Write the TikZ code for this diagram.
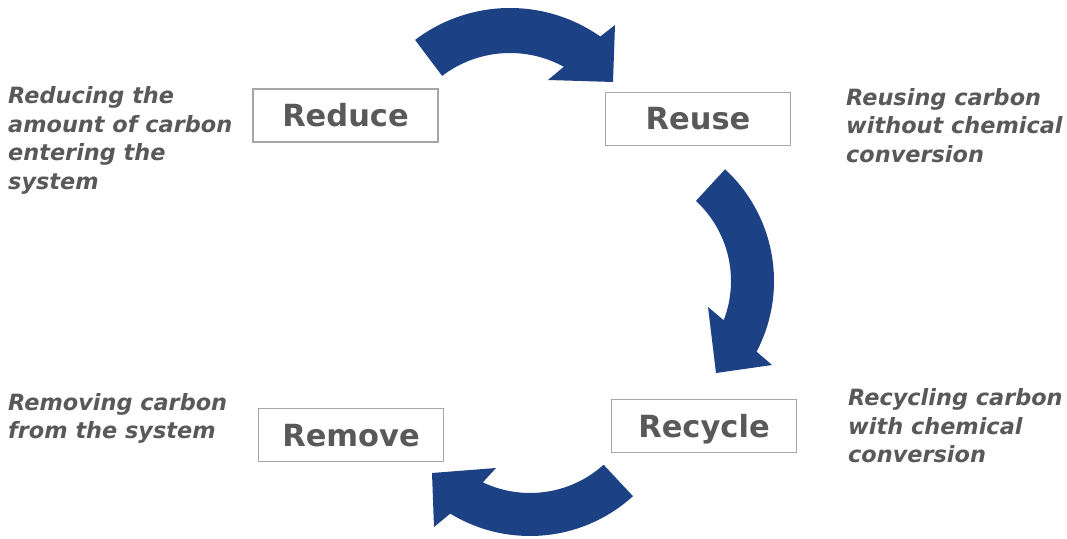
\documentclass[tikz,border=0pt]{standalone}
\usepackage{fontspec}
\setmainfont{DejaVu Sans}
\definecolor{arrblue}{RGB}{28,65,132}
\definecolor{txtgray}{RGB}{89,89,89}
\definecolor{boxgray}{RGB}{166,166,166}
\tikzset{
  stagebox/.style={draw=boxgray, line width=1.2pt, fill=white, minimum width=185pt, minimum height=53pt,
    inner sep=0pt, text=txtgray, font=\fontsize{30.5}{36}\selectfont\bfseries, text height=22.2pt, text depth=0pt},
  desc/.style={anchor=north west, inner sep=0pt, align=left, text=txtgray,
    font=\fontsize{22.4}{28.5}\selectfont\bfseries\itshape},
  bigarrow/.style={fill=arrblue}
}
\begin{document}
\begin{tikzpicture}[x=1pt,y=1pt]
\useasboundingbox (0,0) rectangle (1067,538);
\fill[white] (0,0) rectangle (1067,538);
% arrows
\begin{scope}[shift={(510,373)}]
\fill[bigarrow] (127.2:157) arc[start angle=127.2, end angle=54.9, radius=157]
  -- (105,140) -- (103,83) -- (38,85) -- (61.3:112)
  arc[start angle=61.3, end angle=127.3, radius=112] -- cycle;
\end{scope}
\begin{scope}[shift={(622,257)}]
\fill[bigarrow] (47.3:152) arc[start angle=47.3, end angle=-27.7, radius=152]
  -- (150,-84) -- (94,-92) -- (86,-26) -- (-21.1:109)
  arc[start angle=-21.1, end angle=47.3, radius=109] -- cycle;
\end{scope}
\begin{scope}[shift={(530,155)}]
\fill[bigarrow] (-47.7:153) arc[start angle=-47.7, end angle=-121.4, radius=153]
  -- (-96,-144) -- (-98,-90) -- (-34,-85) -- (-115.4:110)
  arc[start angle=-115.4, end angle=-48, radius=110] -- cycle;
\end{scope}
% boxes
\node[stagebox] (reduce) at (345.5,422.5) {Reduce};
\node[stagebox] (reuse) at (698,419.3) {Reuse};
\node[stagebox] (recycle) at (704,112) {Recycle};
\node[stagebox] (remove) at (351,103) {Remove};
% descriptions
\node[desc] (dreduce) at (8,451.5) {Reducing the\\amount of carbon\\entering the\\system};
\node[desc] (dreuse) at (846,450) {Reusing carbon\\without chemical\\conversion};
\node[desc] (dremove) at (8,145) {Removing carbon\\from the system};
\node[desc] (drecycle) at (848,149.3) {Recycling carbon\\with chemical\\conversion};
\end{tikzpicture}
\end{document}
